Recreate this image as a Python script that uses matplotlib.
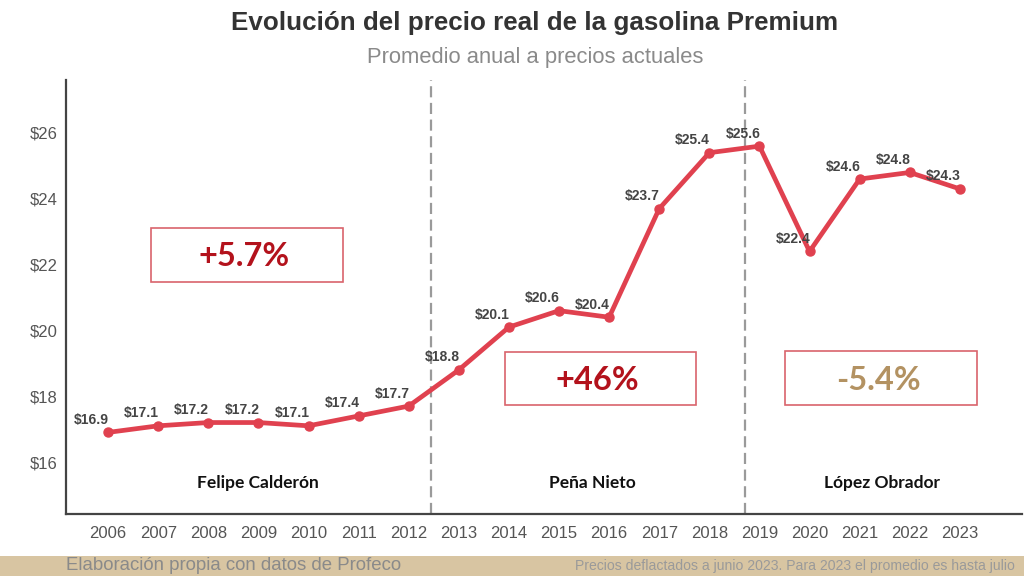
import matplotlib
matplotlib.use("Agg")
import matplotlib.pyplot as plt
from matplotlib.patches import Rectangle
import numpy as np

# data
years = [2006, 2007, 2008, 2009, 2010, 2011, 2012, 2013, 2014,
         2015, 2016, 2017, 2018, 2019, 2020, 2021, 2022, 2023]
precio = [16.9, 17.1, 17.2, 17.2, 17.1, 17.4, 17.7, 18.8, 20.1,
          20.6, 20.4, 23.7, 25.4, 25.6, 22.4, 24.6, 24.8, 24.3]
cambios = ["+5.7%", "+46%", "-5.4%"]
presidentes = ["Felipe Calderón", "Peña Nieto", "López Obrador"]
yticks = [16, 18, 20, 22, 24, 26]

W, H = 1024, 576
plt.rcParams['font.family'] = ['Liberation Sans', 'DejaVu Sans']

fig = plt.figure(figsize=(W / 100, H / 100), dpi=100)
fig.patch.set_facecolor('white')


def fx(x):
    return x / W


def fy(y):
    return 1 - y / H


# axes placed by pixel box (66..1022, 80..514)
ax = fig.add_axes([fx(66), fy(514), fx(1022 - 66), (514 - 80) / H])
ax.set_facecolor('none')
ax.set_xlim(2005.16, 2024.24)
ax.set_ylim(14.42, 27.61)

red = '#e0414f'
ax.plot(years, precio, color=red, lw=3.4, marker='o', ms=6.5,
        solid_joinstyle='round', zorder=3)

for x, v in zip(years, precio):
    ax.annotate(f"${v:.1f}", (x, v), xytext=(-12, 9), textcoords='offset points',
                ha='center', va='center', fontsize=10, fontweight='bold',
                color='#444444', zorder=4)

# periodos
for xv in (2012.45, 2018.72):
    ax.axvline(xv, color='#9a9a9a', lw=1.6, ls=(0, (5, 2.5)), zorder=1)

ax.set_yticks(yticks)
ax.set_yticklabels([f"${t}" for t in yticks])
ax.set_xticks(years)
ax.set_xticklabels([str(y) for y in years])
ax.tick_params(length=0, labelsize=12, labelcolor='#555555')
ax.tick_params(axis='x', pad=9)
ax.tick_params(axis='y', pad=6)
for s in ('top', 'right'):
    ax.spines[s].set_visible(False)
for s in ('left', 'bottom'):
    ax.spines[s].set_color('#444444')
    ax.spines[s].set_linewidth(1.6)

# presidentes
for name, cx in zip(presidentes, (258, 592, 882)):
    fig.text(fx(cx), fy(483), name, ha='center', va='center', fontsize=12.5,
             fontweight='bold', color='#111111', family=['Lato', 'DejaVu Sans'])

# cajas de cambio porcentual
boxes = [(151, 228, 343, 282), (505, 352, 696, 405), (785, 351, 977, 405)]
colores = ['#b3121c', '#b3121c', '#b39262']
for (x0, y0, x1, y1), txt, c in zip(boxes, cambios, colores):
    fig.patches.append(Rectangle((fx(x0), fy(y1)), fx(x1 - x0), (y1 - y0) / H,
                                 transform=fig.transFigure, fill=False,
                                 edgecolor='#d9646c', lw=1.2))
    fig.text(fx((x0 + x1) / 2 - 3), fy((y0 + y1) / 2 + 2), txt, ha='center', va='center',
             fontsize=23.5, fontweight='bold', color=c, family=['Lato', 'DejaVu Sans'])

# titulos
fig.text(fx(535), fy(23), "Evolución del precio real de la gasolina Premium",
         ha='center', va='center', fontsize=18.7, fontweight='bold', color='#333333')
fig.text(fx(535), fy(57), "Promedio anual a precios actuales",
         ha='center', va='center', fontsize=15.8, color='#8a8a8a')

# pie
fig.patches.append(Rectangle((0, 0), 1, (576 - 556) / H, transform=fig.transFigure,
                             facecolor='#d8c5a2', edgecolor='none', zorder=0))
fig.text(fx(66), fy(566), "Elaboración propia con datos de Profeco",
         ha='left', va='center', fontsize=13.4, color='#8a8a8a')
fig.text(fx(1015), fy(566),
         "Precios deflactados a junio 2023. Para 2023 el promedio es hasta julio",
         ha='right', va='center', fontsize=10.1, color='#9a9a9a')

fig.savefig('out.png', dpi=100)
